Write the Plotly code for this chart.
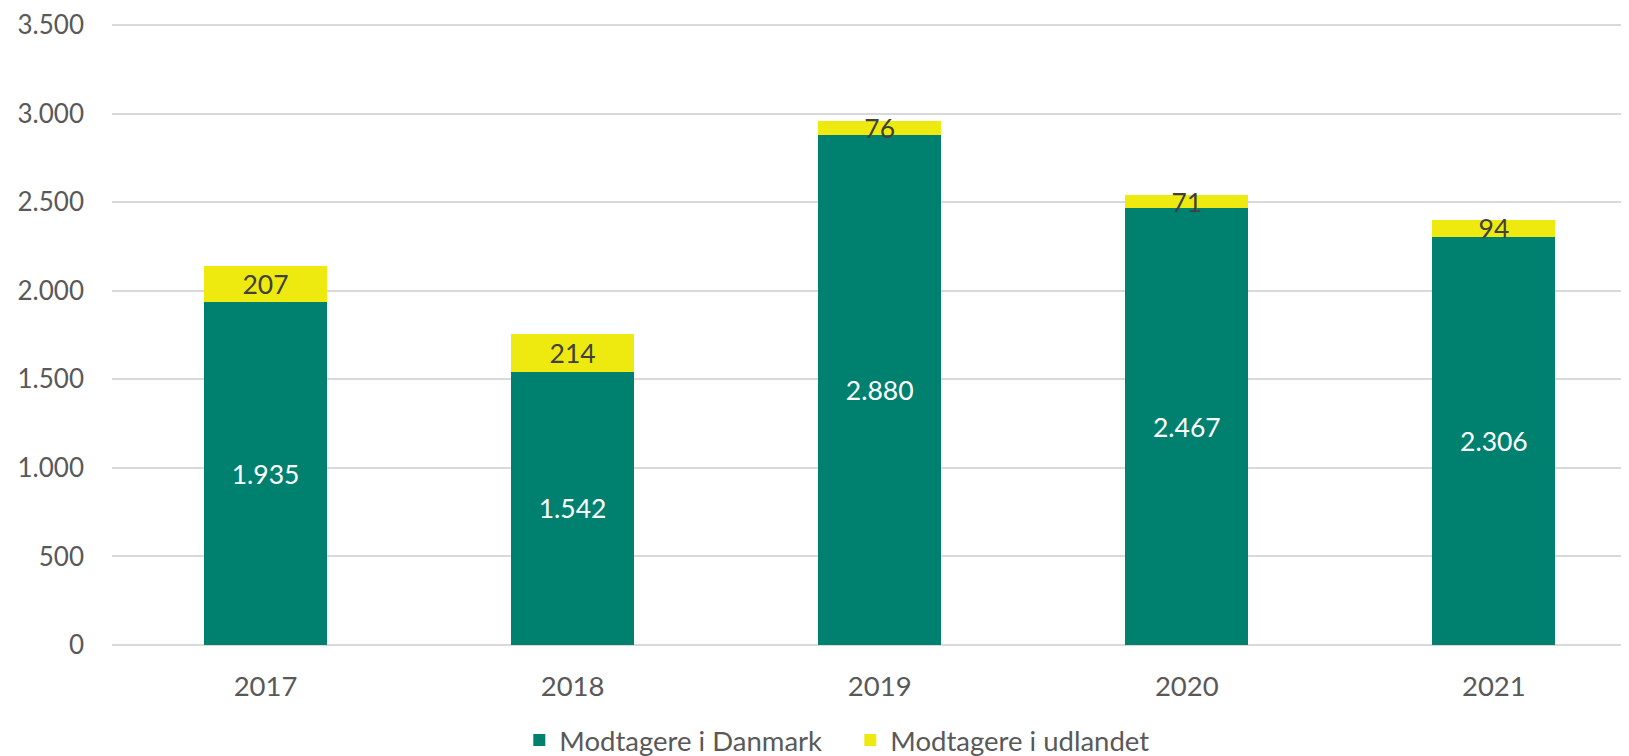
import plotly.graph_objects as go

years = ["2017", "2018", "2019", "2020", "2021"]
danmark = [1935, 1542, 2880, 2467, 2306]
udlandet = [207, 214, 76, 71, 94]

def fmt(v):
    return f"{v:,}".replace(",", ".")

FONT = "Lato, Open Sans, sans-serif"

fig = go.Figure()
fig.add_trace(go.Bar(
    x=years, y=danmark, name="Modtagere i Danmark",
    marker=dict(color="#00816F", line=dict(width=0)),
    text=[fmt(v) for v in danmark], textposition="inside", textangle=0,
    insidetextanchor="middle", constraintext="none",
    textfont=dict(color="white", size=26.5, family=FONT),
    hoverinfo="skip",
))
fig.add_trace(go.Bar(
    x=years, y=udlandet, name="Modtagere i udlandet",
    marker=dict(color="#EEEA0F", line=dict(width=0)),
    text=[fmt(v) for v in udlandet], textposition="inside", textangle=0,
    insidetextanchor="middle", constraintext="none",
    textfont=dict(color="#404040", size=26.5, family=FONT),
    hoverinfo="skip",
))

fig.update_layout(
    barmode="stack",
    bargap=0.6,
    width=1621, height=748,
    margin=dict(l=104, r=0, t=16, b=111, autoexpand=False),
    plot_bgcolor="white", paper_bgcolor="white",
    font=dict(family=FONT, size=27, color="#595959"),
    showlegend=True,
    separators=",.",
    legend=dict(orientation="h", x=0.2685, xanchor="left", y=-0.153, yanchor="middle",
                font=dict(size=27.5, color="#595959"), traceorder="normal",
                entrywidth=286, entrywidthmode="pixels"),
)
fig.update_xaxes(range=[-0.5, 4.44], showgrid=False, showline=False, ticks="",
                 tickfont=dict(size=27.5, color="#595959"), automargin=False,
                 ticklabelstandoff=22)
fig.update_yaxes(range=[0, 3506], dtick=500, showgrid=True, gridcolor="#D9D9D9",
                 gridwidth=1.5, zeroline=True, zerolinecolor="#D9D9D9", zerolinewidth=1.5,
                 tickfont=dict(size=26, color="#595959"), ticks="", ticklabelstandoff=27,
                 tickformat=",d", automargin=False)
fig.write_html("out.html")
